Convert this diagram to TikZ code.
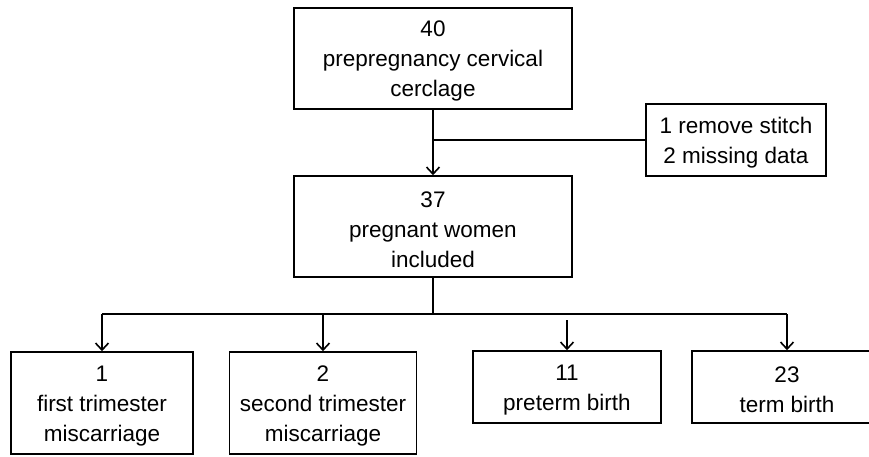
\documentclass[tikz,border=0pt]{standalone}
\usepackage{fontspec}
\setmainfont{Liberation Sans}
\usetikzlibrary{arrows.meta}
\newcommand{\topstrut}{\rule{0pt}{21.5pt}}
\begin{document}
\begin{tikzpicture}[x=1pt,y=-1pt,
  box/.style={draw,line width=1.6pt,align=center,inner sep=0pt,
    font=\fontsize{22.5}{30}\selectfont},
  conn/.style={line width=1.6pt},
  arr/.style={conn,-{Straight Barb[length=7pt,width=13pt,line width=1.6pt]}}]
\useasboundingbox (0,0) rectangle (869,456);
\node[box,minimum width=278,minimum height=101] (top) at (433,58.5) {\topstrut 40\\prepregnancy cervical\\cerclage};
\node[box,minimum width=278,minimum height=101] (incl) at (433,226.5) {\topstrut 37\\pregnant women\\included};
\node[box,minimum width=180,minimum height=72] (side) at (736,140) {\topstrut 1 remove stitch\\2 missing data};
\node[box,minimum width=182,minimum height=102] (a) at (102,403) {\topstrut 1\\first trimester\\miscarriage};
\node[box,minimum width=187,minimum height=102] (b) at (323,403) {\topstrut 2\\second trimester\\miscarriage};
\node[box,minimum width=188,minimum height=72] (c) at (567,387) {\topstrut 11\\preterm birth};
\node[box,minimum width=190,minimum height=72] (d) at (787,387) {\topstrut 23\\term birth};
\draw[arr] (top.south) -- (incl.north);
\draw[conn] (side.west) -- (side.west -| top.south);
\coordinate (j) at (433,314);
\coordinate (jl) at (102,314);
\coordinate (jr) at (787,314);
\coordinate (cs) at (567,320);
\draw[conn] (incl.south) -- (j);
\draw[conn] (jl) -- (jr);
\draw[arr] (jl) -- (a.north);
\draw[arr] (b.north |- j) -- (b.north);
\draw[arr] (cs) -- (c.north);
\draw[arr] (jr) -- (d.north);
\end{tikzpicture}
\end{document}
